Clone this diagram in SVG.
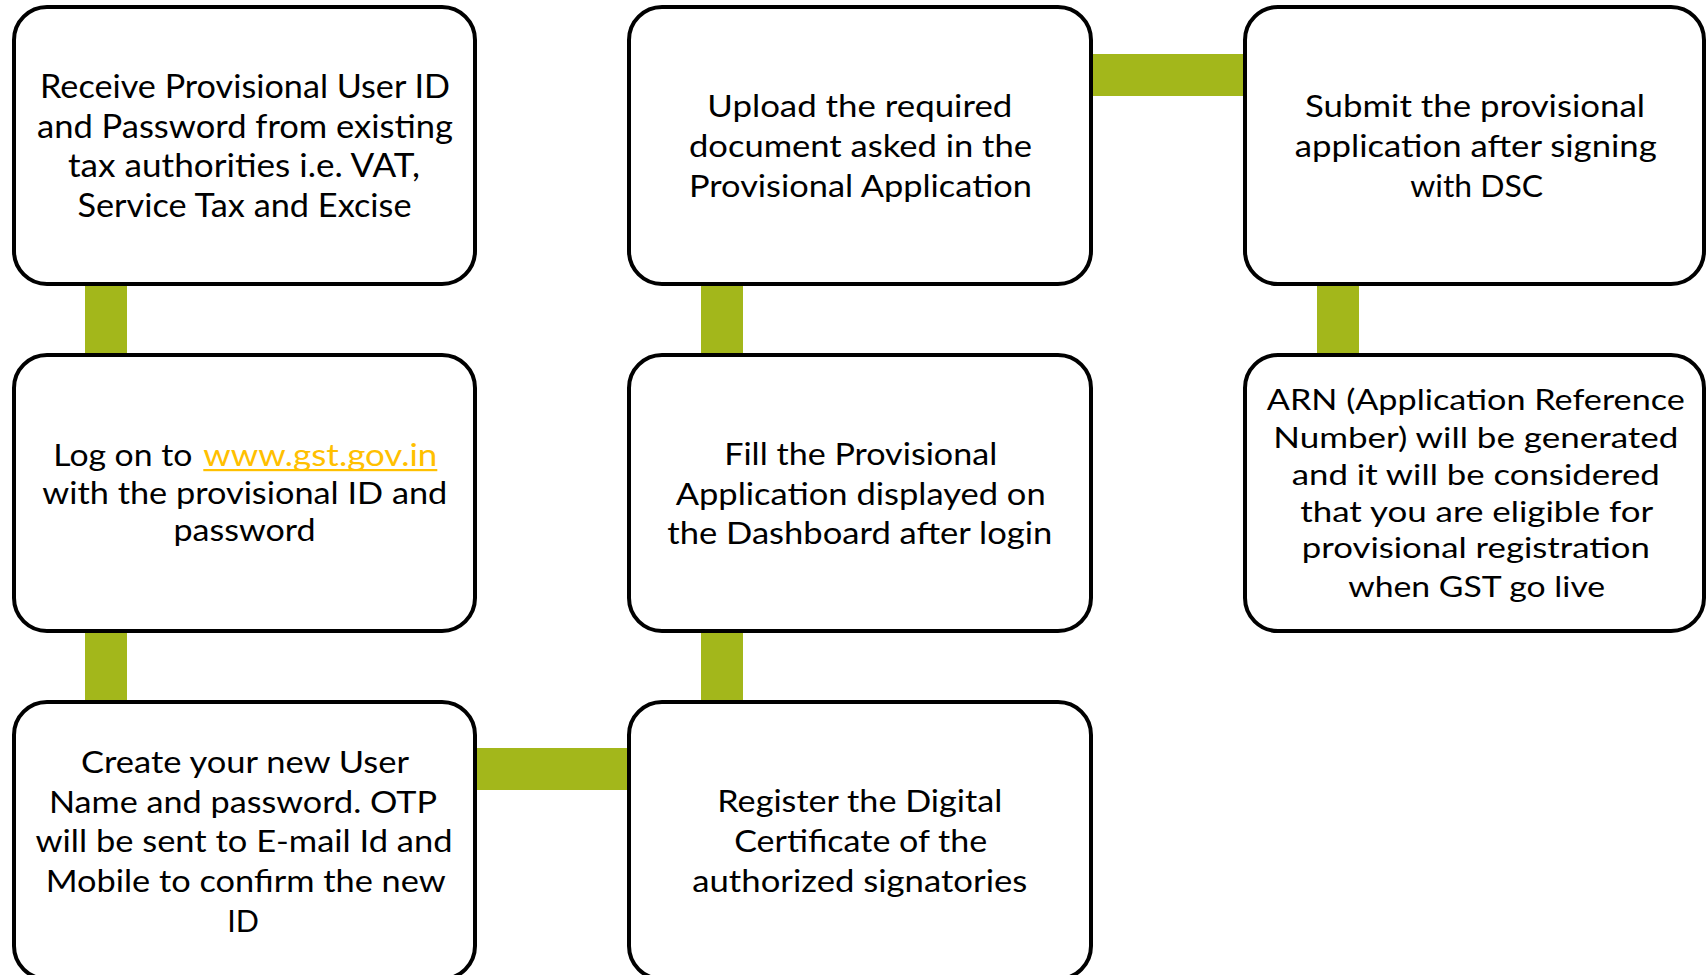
<svg xmlns="http://www.w3.org/2000/svg" width="1706" height="975" viewBox="0 0 1706 975">
<style>
.box{fill:#fff;stroke:#000;stroke-width:4}
.bar{fill:#A3B71B}
text{font-family:Lato,"Open Sans","Liberation Sans",sans-serif;fill:#000;text-anchor:middle}
.t32{font-size:32px}
.t31{font-size:31px}
.t30{font-size:30.5px}
.t29{font-size:29px}
.link{fill:#FFC000;text-anchor:start}
</style>
<rect width="1706" height="975" fill="#fff"/>
<g id="connectors">
<rect class="bar" x="85" y="280" width="42" height="80"/>
<rect class="bar" x="85" y="627" width="42" height="80"/>
<rect class="bar" x="470" y="748" width="164" height="42"/>
<rect class="bar" x="701" y="627" width="42" height="80"/>
<rect class="bar" x="701" y="280" width="42" height="80"/>
<rect class="bar" x="1086" y="54" width="164" height="42"/>
<rect class="bar" x="1317" y="280" width="42" height="80"/>
</g>
<g id="n1">
<rect class="box" x="14" y="7" width="461" height="277" rx="33"/>
<text class="t32" x="245" y="98" textLength="410" lengthAdjust="spacingAndGlyphs">Receive Provisional User ID</text>
<text class="t32" x="245" y="137.5" textLength="416" lengthAdjust="spacingAndGlyphs">and Password from existing</text>
<text class="t32" x="244" y="177" textLength="352" lengthAdjust="spacingAndGlyphs">tax authorities i.e. VAT,</text>
<text class="t32" x="244.5" y="217" textLength="334" lengthAdjust="spacingAndGlyphs">Service Tax and Excise</text>
</g>
<g id="n2">
<rect class="box" x="14" y="355" width="461" height="276" rx="33"/>
<text class="t31" x="53.3" y="466" style="text-anchor:start" textLength="139" lengthAdjust="spacingAndGlyphs">Log on to</text>
<text class="t31 link" x="203.3" y="466" textLength="234" lengthAdjust="spacingAndGlyphs">www.gst.gov.in</text>
<rect x="203.3" y="469" width="234" height="2.2" fill="#FFC000"/>
<text class="t31" x="244.8" y="504" textLength="405" lengthAdjust="spacingAndGlyphs">with the provisional ID and</text>
<text class="t31" x="244.5" y="541" textLength="142" lengthAdjust="spacingAndGlyphs">password</text>
</g>
<g id="n3">
<rect class="box" x="14" y="702" width="461" height="277" rx="33"/>
<text class="t30" x="245" y="773" textLength="328" lengthAdjust="spacingAndGlyphs">Create your new User</text>
<text class="t30" x="243" y="813" textLength="388" lengthAdjust="spacingAndGlyphs">Name and password. OTP</text>
<text class="t30" x="244" y="852" textLength="417" lengthAdjust="spacingAndGlyphs">will be sent to E-mail Id and</text>
<text class="t30" x="245.7" y="892" textLength="400" lengthAdjust="spacingAndGlyphs">Mobile to confirm the new</text>
<text class="t30" x="243.2" y="932" textLength="31.7" lengthAdjust="spacingAndGlyphs">ID</text>
</g>
<g id="n4">
<rect class="box" x="629" y="702" width="462" height="277" rx="33"/>
<text class="t31" x="859.8" y="812" textLength="285" lengthAdjust="spacingAndGlyphs">Register the Digital</text>
<text class="t31" x="860.7" y="852" textLength="253" lengthAdjust="spacingAndGlyphs">Certificate of the</text>
<text class="t31" x="859.8" y="892" textLength="335" lengthAdjust="spacingAndGlyphs">authorized signatories</text>
</g>
<g id="n5">
<rect class="box" x="629" y="355" width="462" height="276" rx="33"/>
<text class="t31" x="860.7" y="465" textLength="273" lengthAdjust="spacingAndGlyphs">Fill the Provisional</text>
<text class="t31" x="860.7" y="505" textLength="370" lengthAdjust="spacingAndGlyphs">Application displayed on</text>
<text class="t31" x="859.8" y="544" textLength="385" lengthAdjust="spacingAndGlyphs">the Dashboard after login</text>
</g>
<g id="n6">
<rect class="box" x="629" y="7" width="462" height="277" rx="33"/>
<text class="t31" x="859.8" y="116.7" textLength="305" lengthAdjust="spacingAndGlyphs">Upload the required</text>
<text class="t31" x="860.5" y="156.7" textLength="343" lengthAdjust="spacingAndGlyphs">document asked in the</text>
<text class="t31" x="860.5" y="196.7" textLength="343" lengthAdjust="spacingAndGlyphs">Provisional Application</text>
</g>
<g id="n7">
<rect class="box" x="1245" y="7" width="459" height="277" rx="33"/>
<text class="t31" x="1475" y="116.7" textLength="340" lengthAdjust="spacingAndGlyphs">Submit the provisional</text>
<text class="t31" x="1475.8" y="156.7" textLength="362" lengthAdjust="spacingAndGlyphs">application after signing</text>
<text class="t31" x="1476.7" y="196.7" textLength="133" lengthAdjust="spacingAndGlyphs">with DSC</text>
</g>
<g id="n8">
<rect class="box" x="1245" y="355" width="459" height="276" rx="33"/>
<text class="t29" x="1475.8" y="410" textLength="418" lengthAdjust="spacingAndGlyphs">ARN (Application Reference</text>
<text class="t29" x="1475.8" y="448" textLength="405" lengthAdjust="spacingAndGlyphs">Number) will be generated</text>
<text class="t29" x="1475.8" y="485" textLength="368" lengthAdjust="spacingAndGlyphs">and it will be considered</text>
<text class="t29" x="1476.7" y="522" textLength="353" lengthAdjust="spacingAndGlyphs">that you are eligible for</text>
<text class="t29" x="1475.8" y="558" textLength="348" lengthAdjust="spacingAndGlyphs">provisional registration</text>
<text class="t29" x="1476.7" y="597" textLength="257" lengthAdjust="spacingAndGlyphs">when GST go live</text>
</g>
</svg>
